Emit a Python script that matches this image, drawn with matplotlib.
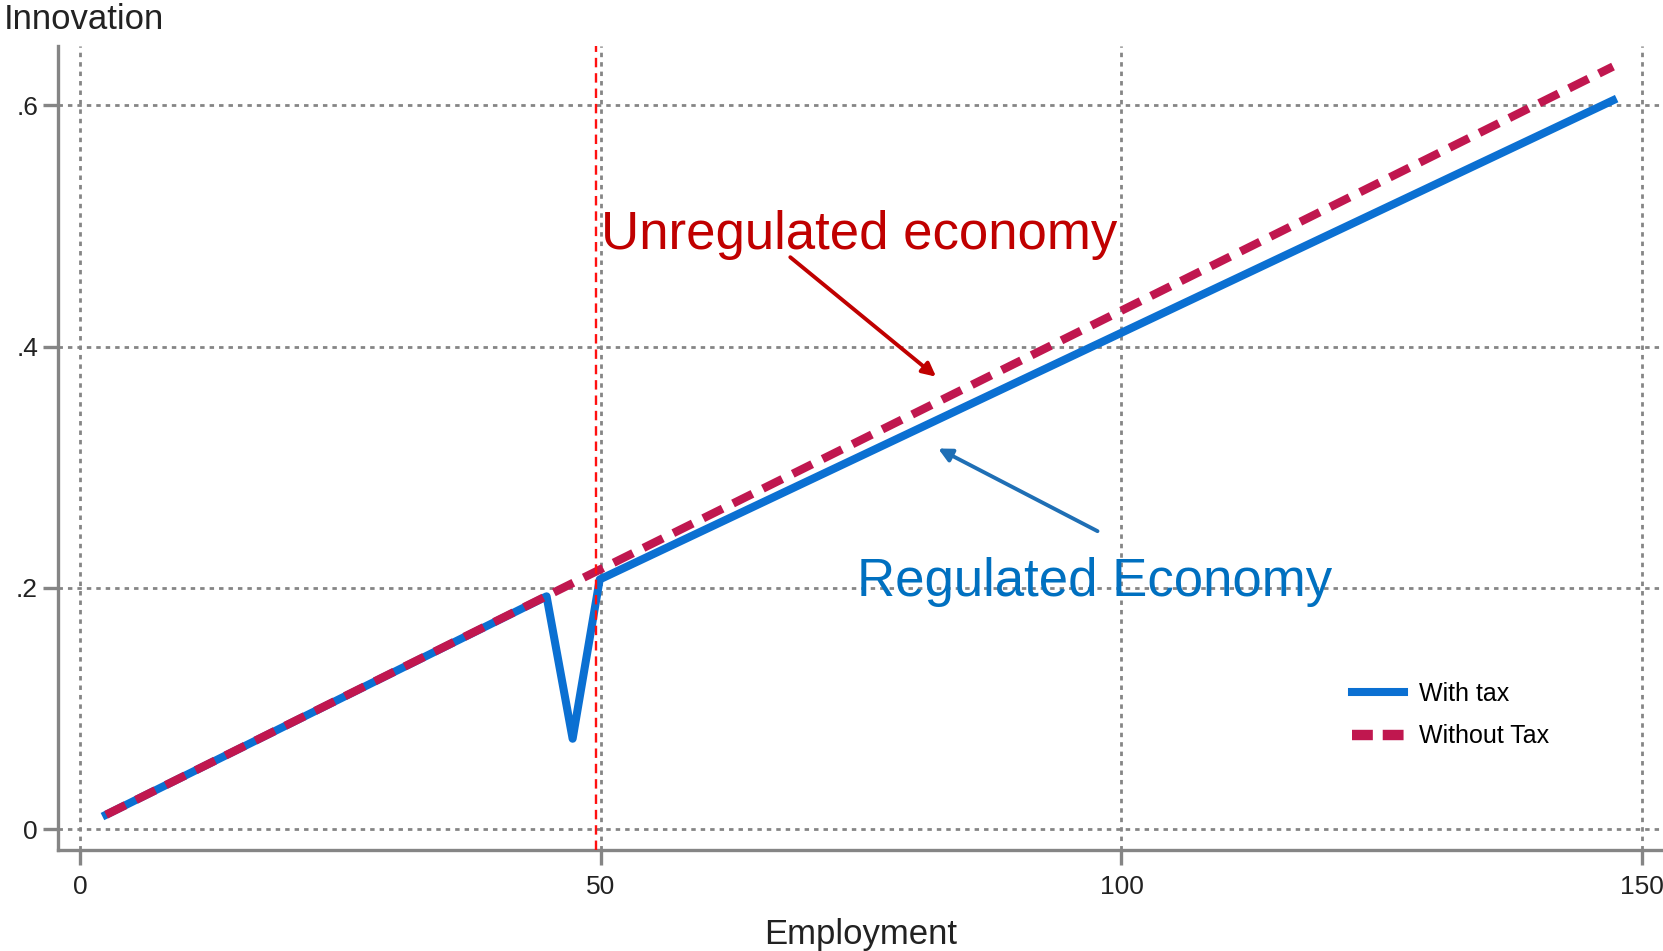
import matplotlib.pyplot as plt

plt.rcParams['font.family'] = ['Liberation Sans', 'DejaVu Sans']

# data
emp_with = [2.5, 44.8, 47.3, 49.9, 147.2]
innov_with = [0.012, 0.193, 0.075, 0.207, 0.604]
emp_without = [2.5, 147.2]
innov_without = [0.012, 0.632]
threshold = 49.5

xticks = [0, 50, 100, 150]
xtick_labels = ['0', '50', '100', '150']
yticks = [0, 0.2, 0.4, 0.6]
ytick_labels = ['0', '.2', '.4', '.6']

blue = '#0B70D2'
crimson = '#C0174F'
grey = '#858585'

fig = plt.figure(figsize=(16.63, 9.51), dpi=100)
ax = fig.add_axes([0.0346, 0.1062, 0.9654, 0.8454])

ax.plot(emp_with, innov_with, color=blue, lw=5.8, label='With tax',
        solid_joinstyle='round', zorder=3)
ax.plot(emp_without, innov_without, color=crimson, lw=6.0, dashes=(2.6, 1.4),
        label='Without Tax', zorder=4)
ax.axvline(threshold, color='#FF1010', lw=1.7, dashes=(4, 2.5), zorder=5)

ax.set_xlim(-2.16, 152.0)
ax.set_ylim(-0.0172, 0.649)
ax.set_xticks(xticks)
ax.set_xticklabels(xtick_labels)
ax.set_yticks(yticks)
ax.set_yticklabels(ytick_labels)

ax.grid(True, color=grey, lw=2.0, linestyle=(0, (1.6, 1.8)), zorder=1)
for s in ['top', 'right']:
    ax.spines[s].set_visible(False)
for s in ['left', 'bottom']:
    ax.spines[s].set_color(grey)
    ax.spines[s].set_linewidth(2.4)
ax.tick_params(axis='both', colors=grey, width=2.4, length=11,
               labelsize=19, labelcolor='#222222')
ax.tick_params(axis='x', pad=7)
ax.tick_params(axis='y', pad=3)

ax.set_xlabel('Employment', fontsize=25, color='#222222', labelpad=14)
fig.text(0.002, 0.980, 'Innovation', fontsize=25, color='#222222',
         ha='left', va='center')

ax.text(50.05, 0.481, 'Unregulated economy', fontsize=38, color='#C00000',
        ha='left', va='baseline')
ax.text(74.6, 0.193, 'Regulated Economy', fontsize=38, color='#0070C0',
        ha='left', va='baseline')

ax.annotate('', xy=(82.2, 0.375), xytext=(68.2, 0.474),
            arrowprops=dict(arrowstyle='-|>', color='#C00000', lw=2.8,
                            mutation_scale=20, shrinkA=0, shrinkB=0))
ax.annotate('', xy=(82.4, 0.3155), xytext=(97.7, 0.247),
            arrowprops=dict(arrowstyle='-|>', color='#1F6FB5', lw=2.8,
                            mutation_scale=20, shrinkA=0, shrinkB=0))

leg = ax.legend(loc='center left', bbox_to_anchor=(0.806, 0.168),
                frameon=False, fontsize=18, handlelength=2.1,
                handletextpad=0.6, labelspacing=0.75, borderpad=0,
                borderaxespad=0)
leg_dash = leg.get_lines()[1]
leg_dash.set_linewidth(7.5)
leg_dash.set_dashes((2.0, 0.95))

fig.savefig('out.png', dpi=100)
